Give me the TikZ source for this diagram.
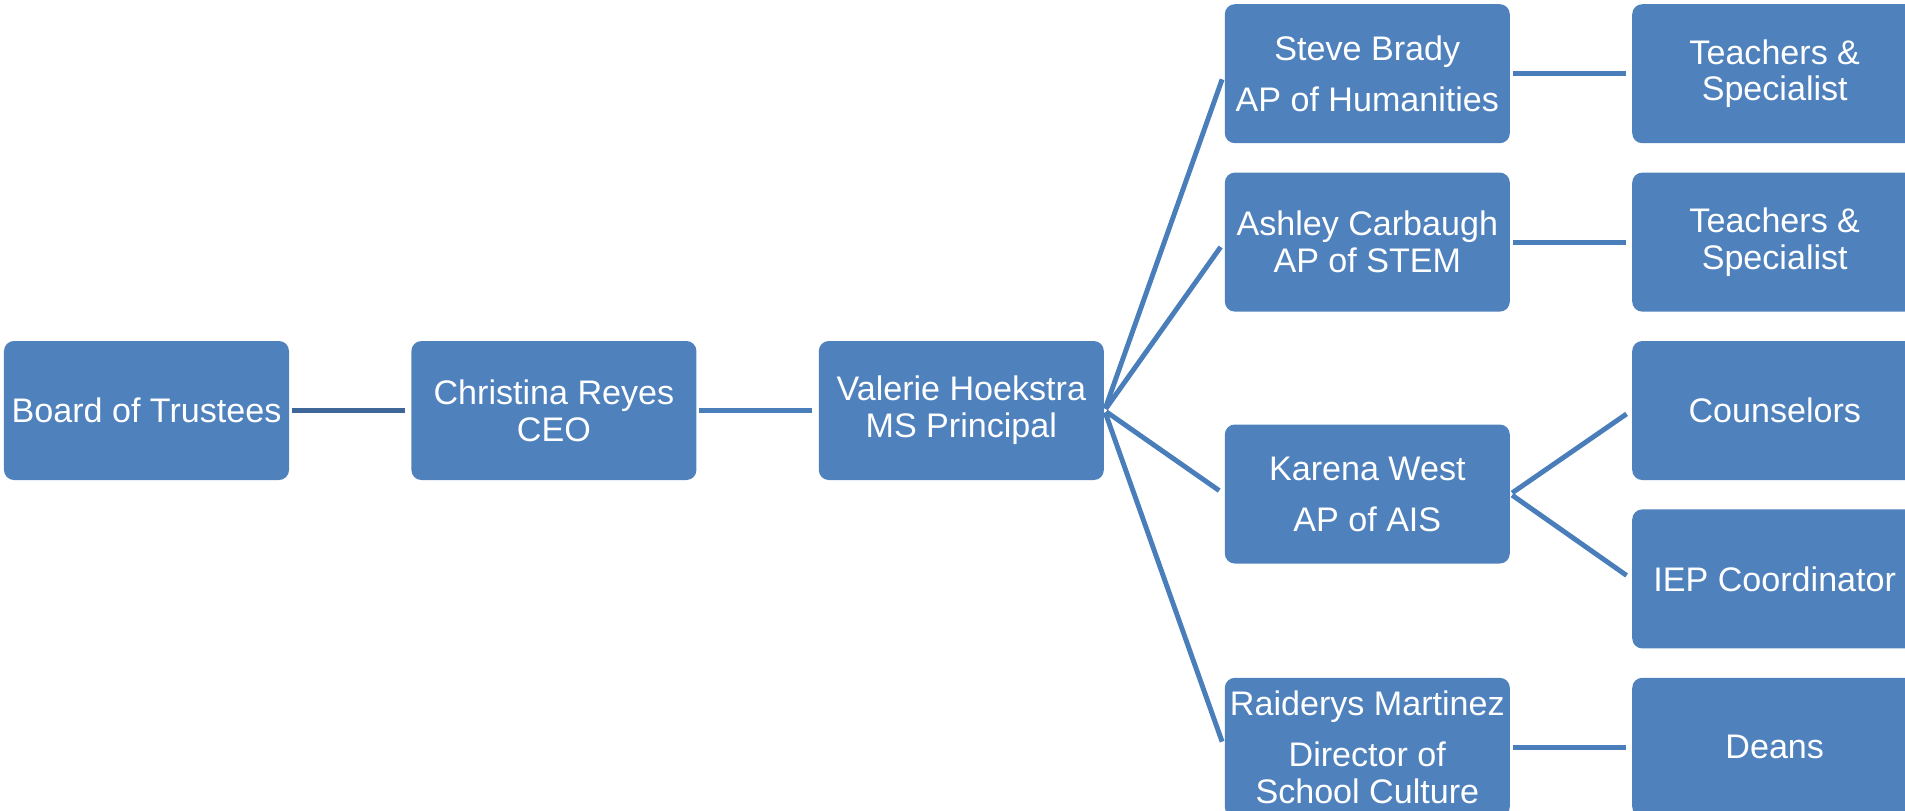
\documentclass[tikz,border=0pt]{standalone}
\usepackage{fontspec}
\setmainfont{Liberation Sans}
\usetikzlibrary{positioning}
\definecolor{boxblue}{RGB}{79,129,189}
\definecolor{lineblue}{RGB}{74,126,187}
\definecolor{darkline}{RGB}{62,102,152}
\tikzset{
  post/.style={rectangle, rounded corners=0.1cm, fill=boxblue, text=white,
    minimum width=2.85cm, minimum height=1.39cm, inner sep=0pt, align=center,
    font=\fontsize{9.7}{10.5}\selectfont},
  link/.style={draw=lineblue, line width=1.4pt, shorten <=0.02cm, shorten >=0.06cm}
}
\begin{document}
\begin{tikzpicture}[node distance=0.28cm and 1.21cm]
\useasboundingbox (0,0) rectangle (19.05,-8.10);
\node[post] (board) at (1.465,-4.105) {Board of Trustees};
\node[post, right=of board] (ceo) {Christina Reyes\\CEO};
\node[post, right=of ceo] (principal) {Valerie Hoekstra\\MS Principal};
\node[post, right=5.27cm of principal] (couns) {Counselors};
\node[post, above=of couns] (teach2) {Teachers \&\\Specialist};
\node[post, above=of teach2] (teach1) {Teachers \&\\Specialist};
\node[post, below=of couns] (iep) {IEP Coordinator};
\node[post, below=of iep] (deans) {Deans};
\node[post, left=of teach1] (steve) {Steve Brady\\[4pt]AP of Humanities};
\node[post, left=of teach2] (ashley) {Ashley Carbaugh\\AP of STEM};
\node[post, left=of couns, yshift=-0.835cm] (karena) {Karena West\\[4pt]AP of AIS};
\node[post, left=of deans] (raiderys) {Raiderys Martinez\\[4pt]Director of\\School Culture};
\draw[link, draw=darkline] (board) -- (ceo);
\draw[link] (ceo) -- (principal);
\foreach \n in {steve,ashley,karena,raiderys}
  \draw[link] (principal.east) -- (\n.west);
\foreach \a/\b in {steve/teach1,ashley/teach2,raiderys/deans}
  \draw[link] (\a) -- (\b);
\draw[link] (karena.east) -- (couns.west);
\draw[link] (karena.east) -- (iep.west);
\end{tikzpicture}
\end{document}
